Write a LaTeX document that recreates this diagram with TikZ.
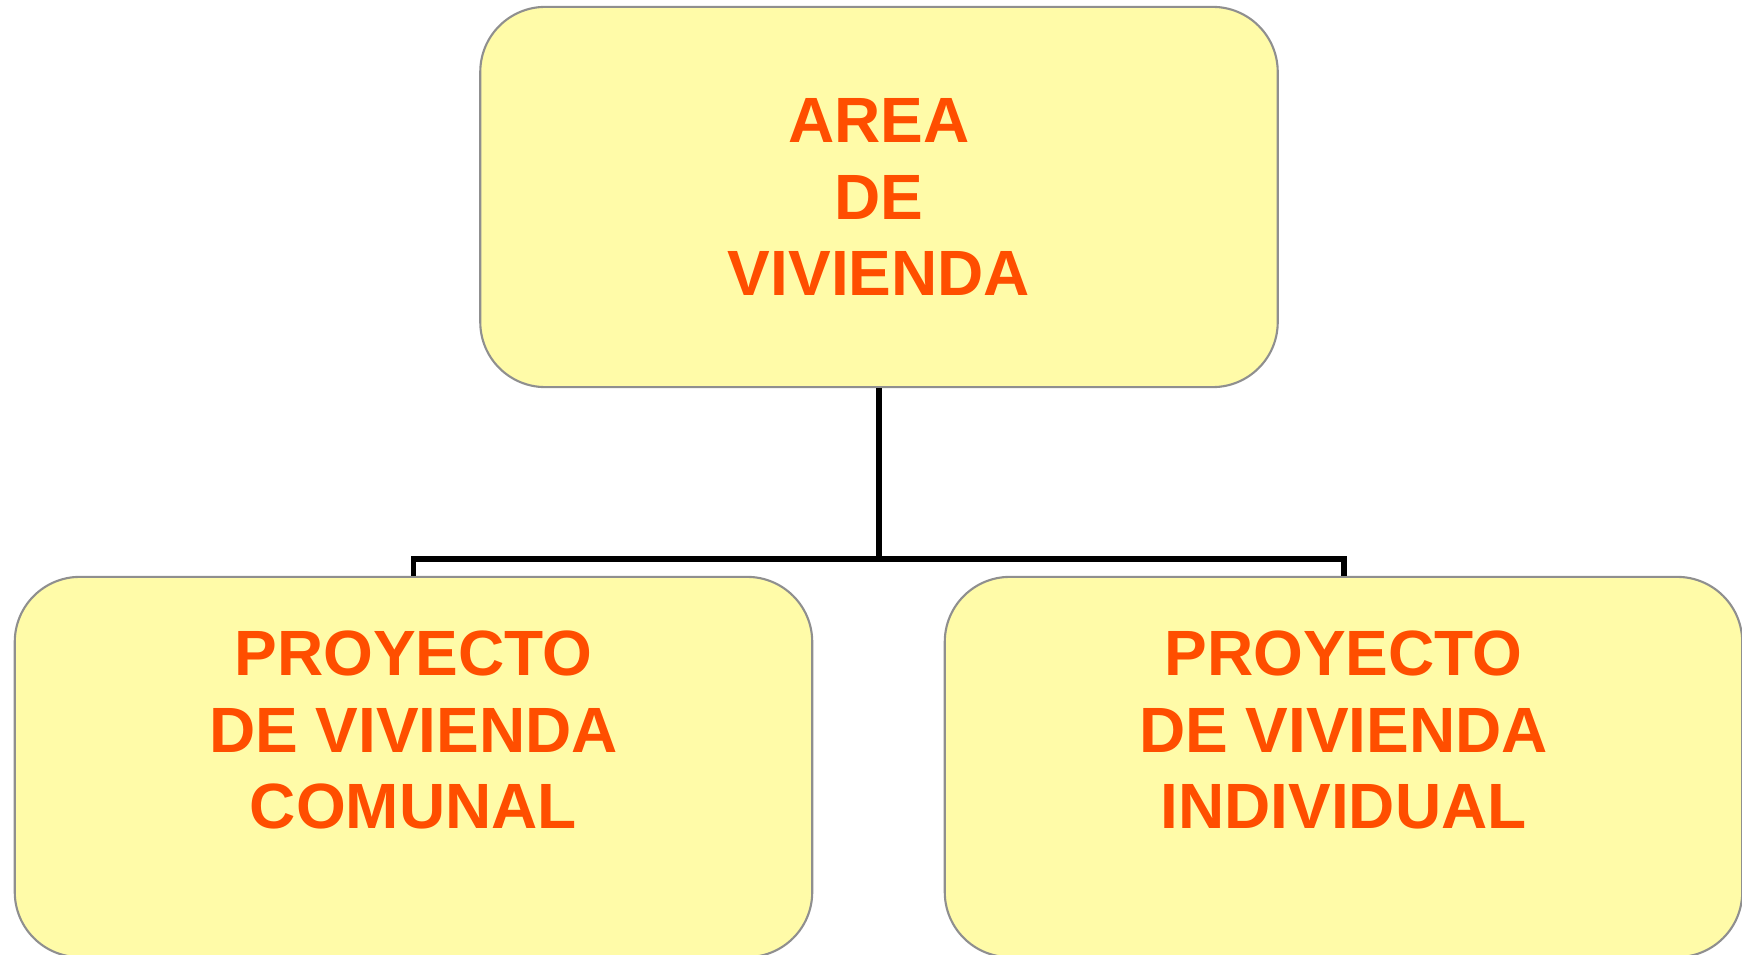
\documentclass[tikz,border=0pt]{standalone}
\usepackage{fontspec}
\setmainfont{Liberation Sans}
\usepackage{xcolor}
\usepackage{tikz}
\usetikzlibrary{positioning}
\definecolor{boxfill}{HTML}{FFFBA8}
\definecolor{titleorange}{HTML}{FF4E00}
\definecolor{boxline}{HTML}{8F8F8F}

\begin{document}
\begin{tikzpicture}[x=0.01cm, y=-0.01cm,
  areabox/.style={draw=boxline, line width=0.6pt, fill=boxfill, rounded corners=0.65cm,
    minimum width=7.97cm, minimum height=3.8cm, inner sep=0pt},
  areatext/.style={text=titleorange, align=center,
    font=\fontsize{18.2pt}{21.8pt}\selectfont\bfseries},
  link/.style={line width=1.7pt, black}]
\useasboundingbox (0,0) rectangle (1742,955);
\clip (0,0) rectangle (1742,955);
\node[areabox, areatext] (area) at (879,197) {AREA\\DE\\VIVIENDA};
\node[areabox] (comunal) at (413.5,767) {};
\node[areabox] (individual) at (1343.5,767) {};
\node[areatext] (comunal-text) at (413.5,730) {PROYECTO\\DE VIVIENDA\\COMUNAL};
\node[areatext] (individual-text) at (1343.5,730) {PROYECTO\\DE VIVIENDA\\INDIVIDUAL};
\coordinate (split) at (879,559);
\draw[link] (area.south) -- (split) -| (comunal.north);
\draw[link] (split) -| (individual.north);
\end{tikzpicture}
\end{document}
